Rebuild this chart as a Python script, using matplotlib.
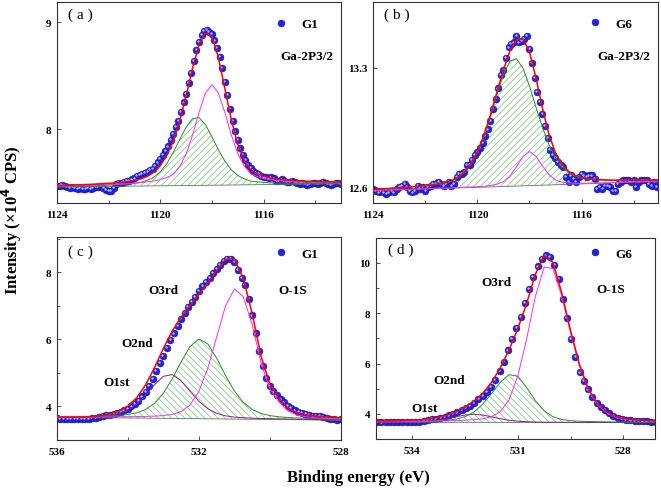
import numpy as np
import matplotlib
matplotlib.use("Agg")
import matplotlib.pyplot as plt
from matplotlib import transforms
from matplotlib.ticker import FixedLocator, FormatStrFormatter

# --------------------------------------------------
# Data
# --------------------------------------------------

# (a) G1, Ga-2P3/2 : measured points every 0.1 eV from 1124.0 eV
A_START, A_STEP = 1124.0, 0.1
A_DATA = [
    7.47, 7.47, 7.48, 7.47, 7.46, 7.45, 7.46, 7.45, 7.44, 7.45,
    7.44, 7.44, 7.45, 7.44, 7.45, 7.46, 7.46, 7.47, 7.45, 7.43,
    7.42, 7.42, 7.45, 7.49, 7.50, 7.50, 7.51, 7.52, 7.52, 7.53,
    7.54, 7.56, 7.57, 7.58, 7.59, 7.60, 7.62, 7.63, 7.66, 7.69,
    7.72, 7.76, 7.80, 7.84, 7.90, 7.96, 8.02, 8.08, 8.16, 8.25,
    8.33, 8.43, 8.53, 8.64, 8.74, 8.82, 8.88, 8.92, 8.93, 8.91,
    8.89, 8.83, 8.76, 8.68, 8.57, 8.44, 8.32, 8.19, 8.08, 7.98,
    7.90, 7.82, 7.76, 7.71, 7.67, 7.64, 7.61, 7.59, 7.58, 7.56,
    7.55, 7.55, 7.54, 7.55, 7.54, 7.52, 7.52, 7.53, 7.52, 7.51,
    7.51, 7.52, 7.51, 7.50, 7.49, 7.50, 7.49, 7.48, 7.49, 7.50,
    7.50, 7.49, 7.50, 7.51, 7.50, 7.49, 7.48, 7.49, 7.50, 7.50,
    7.49,
]
# fitted curves every 0.25 eV from 1124.0 eV
A_FIT_START, A_FIT_STEP = 1124.0, 0.25
A_GREEN = [
    7.465, 7.466, 7.467, 7.468, 7.470, 7.471, 7.473, 7.476, 7.477, 7.480,
    7.483, 7.487, 7.493, 7.504, 7.522, 7.551, 7.601, 7.678, 7.781, 7.903,
    8.019, 8.099, 8.109, 8.042, 7.930, 7.809, 7.703, 7.621, 7.568, 7.536,
    7.516, 7.508, 7.503, 7.499, 7.497, 7.496, 7.496, 7.494, 7.494, 7.494,
    7.493, 7.494, 7.494, 7.494, 7.494,
]
A_PINK = [
    7.469, 7.470, 7.471, 7.473, 7.475, 7.476, 7.478, 7.480, 7.482, 7.485,
    7.488, 7.491, 7.496, 7.501, 7.508, 7.516, 7.529, 7.548, 7.577, 7.648,
    7.767, 7.944, 8.154, 8.339, 8.416, 8.340, 8.157, 7.948, 7.772, 7.655,
    7.585, 7.557, 7.540, 7.528, 7.521, 7.516, 7.513, 7.509, 7.507, 7.506,
    7.504, 7.503, 7.503, 7.502, 7.502,
]
A_FIT = [
    7.474, 7.475, 7.477, 7.479, 7.482, 7.484, 7.487, 7.491, 7.494, 7.499,
    7.504, 7.511, 7.521, 7.536, 7.560, 7.597, 7.659, 7.754, 7.886, 8.078,
    8.312, 8.569, 8.788, 8.905, 8.870, 8.672, 8.382, 8.091, 7.861, 7.711,
    7.621, 7.584, 7.561, 7.545, 7.535, 7.528, 7.524, 7.518, 7.515, 7.513,
    7.510, 7.509, 7.508, 7.507, 7.506,
]
A_BASE_X = [1124.0, 1113.0]
A_BASE = [7.460, 7.490]

# (b) G6, Ga-2P3/2
B_START, B_STEP = 1124.0, 0.1
B_DATA = [
    12.59, 12.58, 12.57, 12.58, 12.57, 12.56, 12.57, 12.58, 12.57, 12.59,
    12.60, 12.61, 12.62, 12.60, 12.58, 12.57, 12.58, 12.61, 12.59, 12.60,
    12.58, 12.60, 12.61, 12.62, 12.62, 12.63, 12.62, 12.61, 12.62, 12.63,
    12.61, 12.62, 12.66, 12.68, 12.68, 12.69, 12.73, 12.73, 12.76, 12.79,
    12.81, 12.83, 12.86, 12.90, 12.94, 12.99, 13.06, 13.12, 13.18, 13.26,
    13.29, 13.36, 13.42, 13.44, 13.45, 13.49, 13.45, 13.46, 13.47, 13.49,
    13.41, 13.33, 13.24, 13.16, 13.10, 13.03, 12.96, 12.89, 12.82, 12.79,
    12.77, 12.75, 12.73, 12.72, 12.66, 12.63, 12.67, 12.65, 12.63, 12.66,
    12.68, 12.67, 12.66, 12.67, 12.67, 12.65, 12.59, 12.60, 12.59, 12.61,
    12.61, 12.60, 12.58, 12.58, 12.62, 12.63, 12.64, 12.64, 12.64, 12.63,
    12.64, 12.60, 12.63, 12.64, 12.64, 12.64, 12.62, 12.61, 12.63, 12.60,
    12.61,
]
B_FIT_START, B_FIT_STEP = 1124.0, 0.25
B_GREEN = [
    12.587, 12.589, 12.592, 12.594, 12.596, 12.598, 12.602, 12.605, 12.608, 12.612,
    12.618, 12.625, 12.637, 12.655, 12.687, 12.734, 12.804, 12.900, 13.017, 13.144,
    13.261, 13.340, 13.354, 13.299, 13.194, 13.070, 12.951, 12.850, 12.773, 12.720,
    12.686, 12.666, 12.655, 12.648, 12.645, 12.643, 12.641, 12.640, 12.641, 12.640,
    12.640, 12.640, 12.641, 12.642, 12.642,
]
B_PINK = [
    12.581, 12.582, 12.584, 12.585, 12.587, 12.588, 12.590, 12.591, 12.592, 12.593,
    12.595, 12.596, 12.597, 12.599, 12.601, 12.602, 12.604, 12.606, 12.611, 12.618,
    12.633, 12.666, 12.720, 12.780, 12.810, 12.782, 12.725, 12.674, 12.643, 12.630,
    12.626, 12.624, 12.624, 12.624, 12.626, 12.626, 12.627, 12.628, 12.630, 12.631,
    12.632, 12.632, 12.634, 12.635, 12.636,
]
B_FIT = [
    12.588, 12.590, 12.593, 12.595, 12.598, 12.600, 12.604, 12.607, 12.610, 12.614,
    12.620, 12.627, 12.639, 12.658, 12.690, 12.737, 12.808, 12.905, 13.025, 13.158,
    13.289, 13.400, 13.466, 13.470, 13.394, 13.241, 13.063, 12.910, 12.801, 12.734,
    12.694, 12.671, 12.659, 12.651, 12.648, 12.645, 12.643, 12.642, 12.643, 12.642,
    12.642, 12.641, 12.642, 12.643, 12.643,
]
B_BASE_X = [1124.0, 1113.0]
B_BASE = [12.580, 12.635]

# (c) G1, O-1S
C_START, C_STEP = 536.0, 0.1
C_DATA = [
    3.66, 3.64, 3.63, 3.64, 3.63, 3.62, 3.63, 3.62, 3.63, 3.64,
    3.65, 3.66, 3.70, 3.72, 3.74, 3.76, 3.78, 3.80, 3.83, 3.88,
    3.93, 4.00, 4.08, 4.17, 4.30, 4.44, 4.62, 4.82, 5.06, 5.30,
    5.52, 5.75, 5.98, 6.18, 6.40, 6.62, 6.80, 6.96, 7.12, 7.28,
    7.45, 7.60, 7.72, 7.84, 7.98, 8.10, 8.22, 8.34, 8.40, 8.40,
    8.32, 8.08, 7.84, 7.62, 7.20, 6.72, 6.18, 5.66, 5.20, 4.86,
    4.62, 4.45, 4.33, 4.21, 4.12, 4.02, 3.95, 3.88, 3.84, 3.80,
    3.77, 3.75, 3.73, 3.72, 3.71, 3.69, 3.67, 3.64, 3.62, 3.61,
    3.62,
]
C_FIT_START, C_FIT_STEP = 536.0, 0.25
C_PURPLE = [
    3.690, 3.690, 3.691, 3.694, 3.700, 3.712, 3.735, 3.788, 3.890, 4.071,
    4.336, 4.648, 4.900, 4.953, 4.768, 4.459, 4.158, 3.934, 3.795, 3.721,
    3.683, 3.664, 3.651, 3.643, 3.636, 3.630, 3.624, 3.619, 3.615, 3.610,
    3.606, 3.602, 3.598,
]
C_GREEN = [
    3.690, 3.691, 3.693, 3.697, 3.702, 3.709, 3.720, 3.736, 3.763, 3.812,
    3.909, 4.092, 4.393, 4.824, 5.331, 5.790, 6.013, 5.869, 5.444, 4.924,
    4.464, 4.123, 3.911, 3.791, 3.727, 3.693, 3.671, 3.658, 3.647, 3.638,
    3.630, 3.623, 3.616,
]
C_PINK = [
    3.688, 3.687, 3.687, 3.687, 3.687, 3.688, 3.689, 3.691, 3.694, 3.698,
    3.703, 3.712, 3.728, 3.763, 3.846, 4.044, 4.446, 5.134, 6.071, 7.001,
    7.508, 7.275, 6.449, 5.300, 4.520, 4.148, 3.872, 3.748, 3.696, 3.668,
    3.651, 3.639, 3.629,
]
C_FIT = [
    3.675, 3.677, 3.680, 3.684, 3.692, 3.722, 3.775, 3.860, 4.010, 4.260,
    4.644, 5.154, 5.729, 6.252, 6.663, 7.017, 7.347, 7.673, 8.050, 8.392,
    8.407, 7.820, 6.775, 5.502, 4.657, 4.251, 3.953, 3.817, 3.754, 3.718,
    3.695, 3.678, 3.663,
]
C_BASE_X = [536.0, 528.0]
C_BASE = [3.680, 3.590]

# (d) G6, O-1S : measured points every 0.12 eV from 535.0 eV
D_START, D_STEP = 535.0, 0.12
D_DATA = [
    3.67, 3.66, 3.67, 3.67, 3.68, 3.68, 3.68, 3.68, 3.68, 3.68,
    3.68, 3.72, 3.77, 3.79, 3.81, 3.84, 3.88, 3.94, 3.99, 4.06,
    4.15, 4.23, 4.33, 4.44, 4.58, 4.71, 4.86, 5.08, 5.36, 5.70,
    6.06, 6.52, 6.98, 7.42, 7.86, 8.42, 8.96, 9.43, 9.86, 10.15,
    10.30, 10.23, 9.92, 9.35, 8.55, 7.80, 6.98, 6.28, 5.65, 5.30,
    4.97, 4.67, 4.45, 4.27, 4.14, 4.02, 3.92, 3.84, 3.79, 3.76,
    3.74, 3.72, 3.71, 3.70, 3.70, 3.69, 3.69,
]
D_FIT_START, D_FIT_STEP = 535.0, 0.25
D_PURPLE = [
    3.676, 3.676, 3.677, 3.679, 3.684, 3.694, 3.714, 3.752, 3.811, 3.885,
    3.954, 3.983, 3.953, 3.883, 3.807, 3.747, 3.708, 3.686, 3.675, 3.669,
    3.666, 3.664, 3.662, 3.661, 3.659, 3.658, 3.657, 3.656, 3.656, 3.654,
    3.653, 3.653, 3.652,
]
D_GREEN = [
    3.688, 3.690, 3.693, 3.696, 3.701, 3.706, 3.714, 3.726, 3.748, 3.793,
    3.889, 4.072, 4.379, 4.802, 5.253, 5.558, 5.500, 5.045, 4.519, 4.117,
    3.887, 3.777, 3.730, 3.708, 3.697, 3.688, 3.682, 3.677, 3.673, 3.669,
    3.666, 3.664, 3.662,
]
D_PINK = [
    3.691, 3.692, 3.694, 3.696, 3.700, 3.704, 3.708, 3.715, 3.723, 3.733,
    3.747, 3.768, 3.803, 3.883, 4.083, 4.556, 5.500, 6.973, 8.673, 9.838,
    9.778, 8.677, 7.226, 5.916, 4.965, 4.384, 4.084, 3.873, 3.793, 3.752,
    3.731, 3.716, 3.705,
]
D_FIT = [
    3.715, 3.720, 3.726, 3.735, 3.749, 3.770, 3.804, 3.861, 3.952, 4.083,
    4.262, 4.497, 4.809, 5.244, 5.821, 6.539, 7.388, 8.386, 9.550, 10.308,
    10.015, 8.804, 7.306, 5.973, 5.011, 4.422, 4.115, 3.900, 3.816, 3.771,
    3.748, 3.731, 3.719,
]
D_BASE_X = [535.0, 527.0]
D_BASE = [3.670, 3.650]

# --------------------------------------------------
# Style
# --------------------------------------------------

plt.rcParams["font.family"] = ["Liberation Serif", "DejaVu Serif"]
plt.rcParams["hatch.linewidth"] = 0.6

C_POINT = "#2222e6"
C_POINT_EDGE = "#0c0c9c"
C_HIGHLIGHT = "#b3bdff"
C_FIT_LINE = "#ff0000"
C_GREEN_LINE = "#2e8b2e"
C_HATCH = "#8ccc8c"
C_PINK_LINE = "#ff2cff"
C_PURPLE_LINE = "#8b1a8b"
C_BASE_LINE = "#4f7f4f"

BOLD = dict(fontweight="bold")


def grid(start, step, values):
    return np.round(start - step * np.arange(len(values)), 3)


def draw_panel(ax, fig, x, y, xf, fit, comps, base_x, base, hatch, fill_comp):

    # hatched area under the main (green) component
    ax.fill(
        np.r_[xf, base_x[::-1]],
        np.r_[np.asarray(fill_comp), base[::-1]],
        facecolor="none",
        edgecolor=C_HATCH,
        hatch=hatch,
        linewidth=0,
        zorder=1,
    )

    # measured points with a small highlight
    h, = ax.plot(
        x, y, "o",
        ms=5.0,
        mfc=C_POINT,
        mec=C_POINT_EDGE,
        mew=0.3,
        zorder=2,
    )
    shift = transforms.offset_copy(ax.transData, fig=fig, x=-0.6, y=0.6, units="points")
    ax.plot(x, y, "o", ms=1.7, mfc=C_HIGHLIGHT, mec="none", transform=shift, zorder=2.1)

    ax.plot(base_x, base, color=C_BASE_LINE, lw=0.6, zorder=3)

    for values, color in comps:
        ax.plot(xf, values, color=color, lw=0.7, zorder=3)

    ax.plot(xf, fit, color=C_FIT_LINE, lw=1.1, zorder=4)

    return h


def style_axes(ax, xlim, ylim, xmaj, xmin, ymaj, ymin, yfmt):

    ax.set_xlim(*xlim)
    ax.set_ylim(*ylim)

    ax.xaxis.set_major_locator(FixedLocator(xmaj))
    ax.xaxis.set_minor_locator(FixedLocator(xmin))
    ax.yaxis.set_major_locator(FixedLocator(ymaj))
    ax.yaxis.set_minor_locator(FixedLocator(ymin))
    ax.yaxis.set_major_formatter(FormatStrFormatter(yfmt))
    ax.xaxis.set_major_formatter(FormatStrFormatter("%d"))

    ax.tick_params(which="both", direction="in", color="#333333", width=0.6)
    ax.tick_params(which="major", length=3)
    ax.tick_params(which="minor", length=2)
    ax.tick_params(axis="x", pad=5, labelsize=8)
    ax.tick_params(axis="y", pad=4, labelsize=8)

    for lab in ax.get_xticklabels() + ax.get_yticklabels():
        lab.set_fontweight("bold")

    for sp in ax.spines.values():
        sp.set_linewidth(0.8)
        sp.set_color("#333333")


def add_legend(ax, handle, label, anchor):

    ax.legend(
        [handle], [label],
        loc="center left",
        bbox_to_anchor=anchor,
        frameon=False,
        numpoints=1,
        handlelength=1.0,
        handletextpad=1.0,
        borderaxespad=0,
        borderpad=0,
        prop=dict(size=9.5, weight="bold"),
    )


# --------------------------------------------------
# Figure
# --------------------------------------------------

fig = plt.figure(figsize=(6.61, 4.89), dpi=100)

ax_a = fig.add_axes([0.0862, 0.5828, 0.4297, 0.4111])
ax_b = fig.add_axes([0.5648, 0.5828, 0.4311, 0.4105])
ax_c = fig.add_axes([0.0858, 0.0982, 0.4301, 0.4145])
ax_d = fig.add_axes([0.5684, 0.1002, 0.4225, 0.4104])

# (a)
h = draw_panel(
    ax_a, fig,
    grid(A_START, A_STEP, A_DATA), A_DATA,
    grid(A_FIT_START, A_FIT_STEP, A_FIT), A_FIT,
    [(A_GREEN, C_GREEN_LINE), (A_PINK, C_PINK_LINE)],
    np.array(A_BASE_X), np.array(A_BASE),
    "/////", A_GREEN,
)
style_axes(ax_a, (1124, 1113), (7.31, 9.19), [1124, 1120, 1116], [1122, 1118, 1114], [8, 9], [], "%d")
add_legend(ax_a, h, "G1", (0.767, 0.89))
ax_a.text(0.88, 0.731, "Ga-2P3/2", transform=ax_a.transAxes, ha="center", va="center", size=9.5, **BOLD)
ax_a.text(0.081, 0.94, "( a )", transform=ax_a.transAxes, ha="center", va="center", size=11)

# (b)
h = draw_panel(
    ax_b, fig,
    grid(B_START, B_STEP, B_DATA), B_DATA,
    grid(B_FIT_START, B_FIT_STEP, B_FIT), B_FIT,
    [(B_GREEN, C_GREEN_LINE), (B_PINK, C_PINK_LINE)],
    np.array(B_BASE_X), np.array(B_BASE),
    "/////", B_GREEN,
)
style_axes(ax_b, (1124, 1113.05), (12.508, 13.685), [1124, 1120, 1116], [1122, 1118, 1114], [12.6, 13.3], [], "%.1f")
add_legend(ax_b, h, "G6", (0.756, 0.892))
ax_b.text(0.878, 0.732, "Ga-2P3/2", transform=ax_b.transAxes, ha="center", va="center", size=9.5, **BOLD)
ax_b.text(0.081, 0.94, "( b )", transform=ax_b.transAxes, ha="center", va="center", size=11)

# (c)
h = draw_panel(
    ax_c, fig,
    grid(C_START, C_STEP, C_DATA), C_DATA,
    grid(C_FIT_START, C_FIT_STEP, C_FIT), C_FIT,
    [(C_PURPLE, C_PURPLE_LINE), (C_GREEN, C_GREEN_LINE), (C_PINK, C_PINK_LINE)],
    np.array(C_BASE_X), np.array(C_BASE),
    "\\\\\\\\\\", C_GREEN,
)
style_axes(ax_c, (536, 528), (3.0, 9.05), [536, 532, 528], [534, 530], [4, 6, 8], [5, 7, 9], "%d")
add_legend(ax_c, h, "G1", (0.767, 0.918))
ax_c.text(0.831, 0.740, "O-1S", transform=ax_c.transAxes, ha="center", va="center", size=9.5, **BOLD)
ax_c.text(0.374, 0.740, "O3rd", transform=ax_c.transAxes, ha="center", va="center", size=9.5, **BOLD)
ax_c.text(0.284, 0.479, "O2nd", transform=ax_c.transAxes, ha="center", va="center", size=9.5, **BOLD)
ax_c.text(0.209, 0.286, "O1st", transform=ax_c.transAxes, ha="center", va="center", size=9.5, **BOLD)
ax_c.text(0.085, 0.932, "( c )", transform=ax_c.transAxes, ha="center", va="center", size=11)

# (d)
h = draw_panel(
    ax_d, fig,
    grid(D_START, D_STEP, D_DATA), D_DATA,
    grid(D_FIT_START, D_FIT_STEP, D_FIT), D_FIT,
    [(D_PURPLE, C_PURPLE_LINE), (D_GREEN, C_GREEN_LINE), (D_PINK, C_PINK_LINE)],
    np.array(D_BASE_X), np.array(D_BASE),
    "\\\\\\\\\\", D_GREEN,
)
style_axes(ax_d, (535.04, 527.1), (3.0, 10.98), [534, 531, 528], [532.5, 529.5], [4, 6, 8, 10], [5, 7, 9], "%d")
add_legend(ax_d, h, "G6", (0.763, 0.922))
ax_d.text(0.842, 0.747, "O-1S", transform=ax_d.transAxes, ha="center", va="center", size=9.5, **BOLD)
ax_d.text(0.434, 0.782, "O3rd", transform=ax_d.transAxes, ha="center", va="center", size=9.5, **BOLD)
ax_d.text(0.262, 0.294, "O2nd", transform=ax_d.transAxes, ha="center", va="center", size=9.5, **BOLD)
ax_d.text(0.176, 0.154, "O1st", transform=ax_d.transAxes, ha="center", va="center", size=9.5, **BOLD)
ax_d.text(0.091, 0.947, "( d )", transform=ax_d.transAxes, ha="center", va="center", size=11)

# shared axis titles
fig.text(0.5424, 0.0225, "Binding energy (eV)", ha="center", va="center", size=12, **BOLD)
fig.text(0.018, 0.55, "Intensity (×10$^\\mathbf{4}$ CPS)", ha="center", va="center",
         rotation=90, size=12, **BOLD)

fig.savefig("out.png", dpi=100)
